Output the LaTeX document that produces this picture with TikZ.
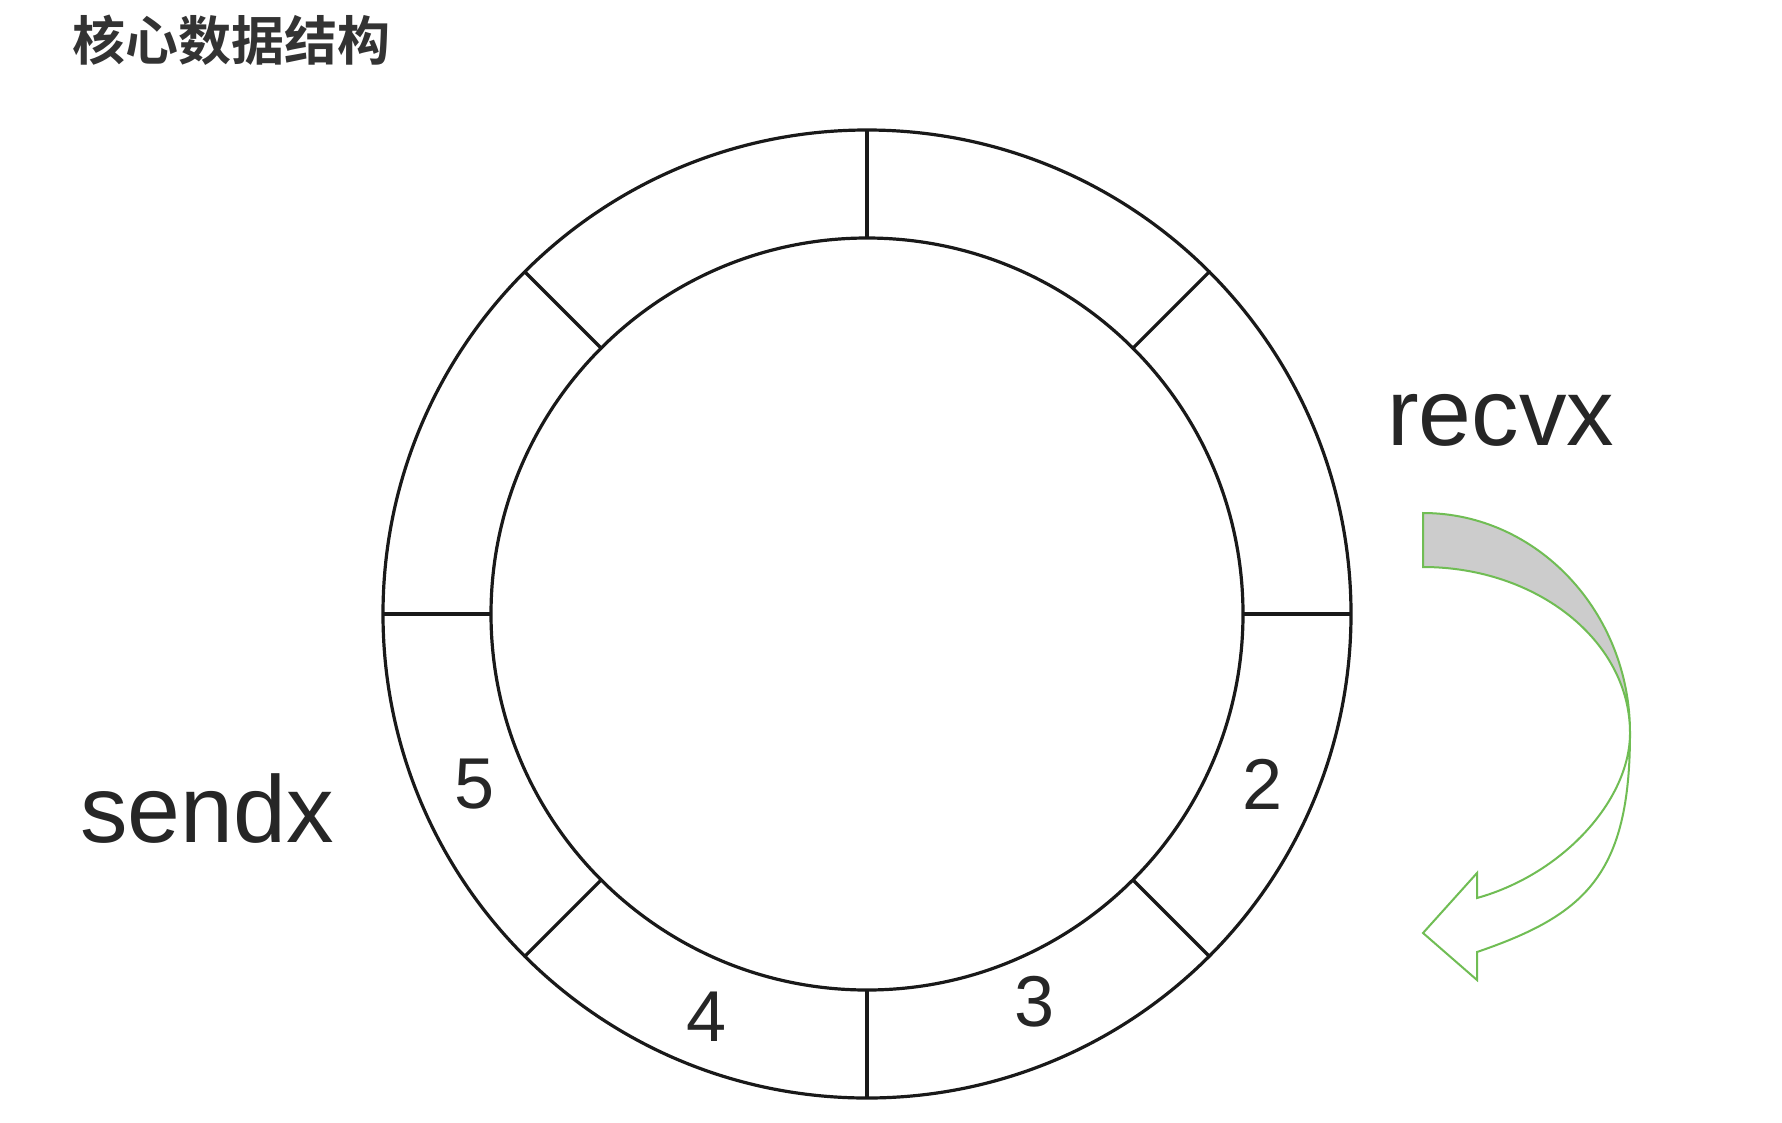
\documentclass[tikz,border=0pt]{standalone}
\usepackage{fontspec}
\setmainfont{Liberation Sans}
\newfontfamily\cjkbold{Noto Sans CJK SC Bold}
\usetikzlibrary{calc}
\definecolor{arrowgreen}{RGB}{112,189,84}
\definecolor{titlegray}{RGB}{51,51,51}
\definecolor{bandgray}{RGB}{204,204,204}
\tikzset{
  ringline/.style={draw=black!90, line width=3.2pt},
  numlabel/.style={inner sep=0pt, font=\fontsize{72}{72}\selectfont, text=black!85},
  ptrlabel/.style={inner sep=0pt, anchor=base west, font=\fontsize{95}{95}\selectfont, text=black!85},
  arrowedge/.style={draw=arrowgreen, line width=2pt, line join=miter},
}
\begin{document}
\begin{tikzpicture}[x=1pt,y=-1pt]
\useasboundingbox[fill=white] (0,0) rectangle (1782,1122);
% title
\node[inner sep=0pt, anchor=base west, text=titlegray, font=\cjkbold\fontsize{53}{53}\selectfont] (title) at (72,60) {核心数据结构};
% ring
\coordinate (c) at (867,614);
\draw[ringline] (c) circle[radius=484pt];
\draw[ringline] (c) circle[radius=376pt];
\foreach \a in {0,45,...,315}{
  \coordinate (in\a) at ($(c)+(\a:376pt)$);
  \coordinate (out\a) at ($(c)+(\a:484pt)$);
  \draw[ringline] (in\a) -- (out\a);
}
% slot numbers
\node[numlabel] (n2) at (1263,784) {2};
\node[numlabel] (n3) at (1035,1002) {3};
\node[numlabel] (n4) at (707,1017) {4};
\node[numlabel] (n5) at (475,784) {5};
% pointer labels
\node[ptrlabel] (recvx) at (1387,445) {recvx};
\node[ptrlabel] (sendx) at (80,842) {sendx};
% curved arrow
\coordinate (tt) at (1423,513);
\coordinate (tb) at (1423,567);
\coordinate (x) at (1630,733);
\coordinate (a1) at (1477,952);
\coordinate (a2) at (1477,898);
\coordinate (b1) at (1477,873);
\coordinate (tip) at (1423,933);
\coordinate (b2) at (1477,980);
\path[arrowedge, fill=white]
  (x) .. controls (1630,800) and (1563,874) .. (a2)
  -- (b1) -- (tip) -- (b2) -- (a1)
  .. controls (1585,915) and (1630,875) .. (x) -- cycle;
\path[arrowedge, fill=bandgray]
  (tt) .. controls (1537,513) and (1630,612) .. (x)
  .. controls (1630,641) and (1537,567) .. (tb) -- cycle;
\end{tikzpicture}
\end{document}
